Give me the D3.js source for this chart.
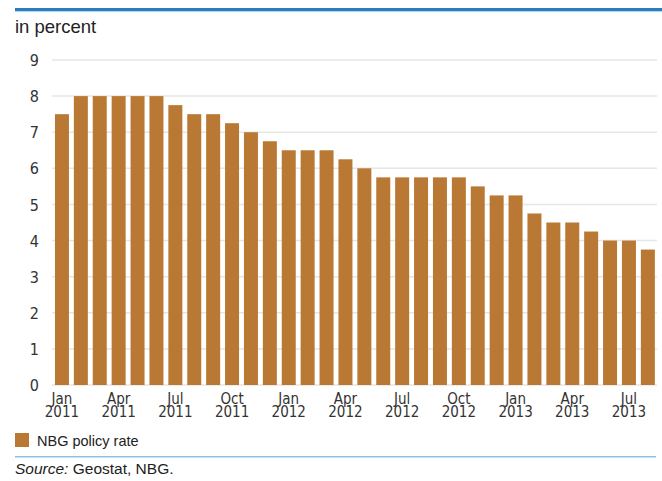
<!DOCTYPE html>
<html>
<head>
<meta charset="utf-8">
<script src="https://cdn.jsdelivr.net/npm/d3@7"></script>
<style>
  html, body { margin: 0; padding: 0; background: #fff; }
  svg { display: block; }
  .cond { font-family: "Liberation Sans Narrow", "DejaVu Sans Condensed", "Arial Narrow", sans-serif; }
  .reg { font-family: "Liberation Sans", Arial, Helvetica, sans-serif; }
</style>
</head>
<body>
<svg id="chart" width="662" height="481"></svg>
<script>
// Monthly policy rate, Jan 2011 – Aug 2013
const months = [
  "Jan 2011","Feb 2011","Mar 2011","Apr 2011","May 2011","Jun 2011",
  "Jul 2011","Aug 2011","Sep 2011","Oct 2011","Nov 2011","Dec 2011",
  "Jan 2012","Feb 2012","Mar 2012","Apr 2012","May 2012","Jun 2012",
  "Jul 2012","Aug 2012","Sep 2012","Oct 2012","Nov 2012","Dec 2012",
  "Jan 2013","Feb 2013","Mar 2013","Apr 2013","May 2013","Jun 2013",
  "Jul 2013","Aug 2013"
];
const policyRate = [
  7.5, 8, 8, 8, 8, 8, 7.75, 7.5, 7.5, 7.25, 7.0, 6.75,
  6.5, 6.5, 6.5, 6.25, 6.0, 5.75, 5.75, 5.75, 5.75, 5.75, 5.5, 5.25,
  5.25, 4.75, 4.5, 4.5, 4.25, 4.0, 4.0, 3.75
];
const yTicks = [0, 1, 2, 3, 4, 5, 6, 7, 8, 9];
const labelledMonths = ["Jan", "Apr", "Jul", "Oct"];
const seriesName = "NBG policy rate";

const svg = d3.select("#chart");
const W = 662;

// top rule
svg.append("rect").attr("x", 15).attr("y", 8).attr("width", W - 15).attr("height", 3).attr("fill", "#2a7fc3");
svg.append("rect").attr("x", 15).attr("y", 11).attr("width", W - 15).attr("height", 1).attr("fill", "#b5d4ec");

svg.append("text").attr("class", "reg")
  .attr("x", 15).attr("y", 33)
  .attr("font-size", 18.5).attr("fill", "#222")
  .text("in percent");

const x = d3.scaleBand().domain(months).range([52.5, 657.3]).paddingInner(0.26).paddingOuter(0.13);
const y = d3.scaleLinear().domain([0, 9]).range([385, 60]);

// gridlines
svg.append("g").selectAll("line").data(yTicks).join("line")
  .attr("x1", 52).attr("x2", 657)
  .attr("y1", d => y(d)).attr("y2", d => y(d))
  .attr("stroke", "#e6e6e6").attr("stroke-width", 1.5);

// y axis labels
const yAxis = d3.axisLeft(y).tickValues(yTicks).tickSize(0).tickPadding(0).tickFormat(d3.format("d"));
const gy = svg.append("g").attr("transform", "translate(39,0)").call(yAxis);
gy.select(".domain").remove();
gy.selectAll("text").attr("class", "cond").attr("font-size", 16).attr("fill", "#333").attr("dy", "0.35em");

// bars
svg.append("g").selectAll("rect").data(months).join("rect")
  .attr("x", d => x(d))
  .attr("width", x.bandwidth())
  .attr("y", (d, i) => y(policyRate[i]))
  .attr("height", (d, i) => y(0) - y(policyRate[i]))
  .attr("fill", "#b97833");

// x axis labels: quarter months with year below
const xAxis = d3.axisBottom(x)
  .tickValues(months.filter(m => labelledMonths.includes(m.split(" ")[0])))
  .tickSize(0).tickPadding(0).tickFormat("");
const gx = svg.append("g").attr("transform", "translate(0,386)").call(xAxis);
gx.select(".domain").remove();
gx.selectAll(".tick").each(function(d) {
  const [m, yr] = d.split(" ");
  const t = d3.select(this).append("text")
    .attr("class", "cond").attr("font-size", 15).attr("fill", "#333")
    .attr("text-anchor", "middle");
  t.append("tspan").attr("x", 0).attr("y", 18).text(m);
  t.append("tspan").attr("x", 0).attr("y", 31).text(yr);
});

// legend
svg.append("rect").attr("x", 15).attr("y", 433).attr("width", 14).attr("height", 14).attr("fill", "#b97833");
svg.append("text").attr("class", "reg")
  .attr("x", 37).attr("y", 446).attr("font-size", 14.5).attr("fill", "#222")
  .text(seriesName);

// bottom rule
svg.append("rect").attr("x", 15).attr("y", 456).attr("width", 641).attr("height", 1.5).attr("fill", "#8fc0e2");

// source note
const src = svg.append("text").attr("class", "reg")
  .attr("x", 15).attr("y", 474).attr("font-size", 15.5).attr("fill", "#222");
src.append("tspan").attr("font-style", "italic").text("Source:");
src.append("tspan").text(" Geostat, NBG.");
</script>
</body>
</html>
